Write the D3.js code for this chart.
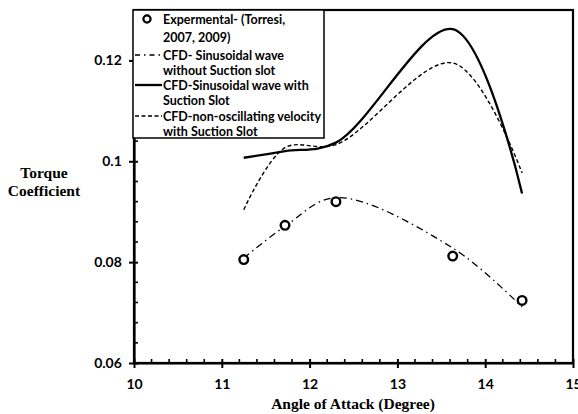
<!DOCTYPE html>
<html><head><meta charset="utf-8">
<script src="https://cdn.jsdelivr.net/npm/d3@7"></script>
<style>html,body{margin:0;padding:0;background:#fff;}svg{display:block;}</style>
</head><body>
<svg id="chart" width="578" height="414"></svg>
<script>
const angles = [11.25, 11.72, 12.3, 13.63, 14.42];
const experimental = [0.0805, 0.0873, 0.0920, 0.0812, 0.0724];
const cfdSinNoSlot = [0.0808, 0.0871, 0.0928, 0.0828, 0.0711];
const cfdSinSlot = [0.1007, 0.1020, 0.1037, 0.1262, 0.0936];
const cfdNonOsc = [0.0904, 0.1027, 0.1033, 0.1195, 0.0977];
const xTicks = [10, 11, 12, 13, 14, 15];
const yTicks = [0.06, 0.08, 0.1, 0.12];
const legendLabels = [
  ["Expermental- (Torresi,", "2007, 2009)"],
  ["CFD- Sinusoidal wave", "without Suction slot"],
  ["CFD-Sinusoidal wave with", "Suction Slot"],
  ["CFD-non-oscillating velocity", "with Suction Slot"]
];

const svg = d3.select("#chart");
const L = 134, R = 573, T = 10, B = 363;
const x = d3.scaleLinear().domain([10, 15]).range([L, R]);
const y = d3.scaleLinear().domain([0.06, 0.13]).range([B, T]);
const sansFont = "Lato, 'Open Sans', sans-serif";
const serifFont = "'Liberation Serif', 'DejaVu Serif', serif";

// frame
svg.append("rect").attr("x", L).attr("y", T).attr("width", R - L).attr("height", B - T)
  .attr("fill", "none").attr("stroke", "#000").attr("stroke-width", 2.2);

// minor ticks (inside)
const xMinor = d3.range(10, 15.001, 0.2).filter(v => Math.abs(v - Math.round(v)) > 1e-6);
const yMinor = d3.range(0.06, 0.1301, 0.004).filter(v => yTicks.every(t => Math.abs(t - v) > 1e-6));
svg.append("g").selectAll("line").data(xMinor).join("line")
  .attr("x1", d => x(d)).attr("x2", d => x(d)).attr("y1", B).attr("y2", B - 4)
  .attr("stroke", "#000").attr("stroke-width", 1.6);
svg.append("g").selectAll("line").data(yMinor).join("line")
  .attr("x1", L).attr("x2", L + 4).attr("y1", d => y(d)).attr("y2", d => y(d))
  .attr("stroke", "#000").attr("stroke-width", 1.6);

// axes
const xAxis = svg.append("g").attr("transform", `translate(0,${B})`)
  .call(d3.axisBottom(x).tickValues(xTicks).tickFormat(d3.format("d")).tickSizeInner(5).tickSizeOuter(0));
xAxis.selectAll(".tick line").attr("y1", -4).attr("y2", 5);
const yAxis = svg.append("g").attr("transform", `translate(${L},0)`)
  .call(d3.axisLeft(y).tickValues(yTicks).tickFormat(d => d === 0.1 ? "0.1" : d3.format(".2f")(d)).tickSizeInner(5).tickSizeOuter(0));
yAxis.selectAll(".tick line").attr("x1", 4).attr("x2", -5);
[xAxis, yAxis].forEach(g => {
  g.select(".domain").attr("stroke-width", 2.2);
  g.selectAll(".tick line").attr("stroke-width", 2);
  g.selectAll("text").attr("font-family", sansFont).attr("font-weight", "bold").attr("font-size", 14).attr("fill", "#000");
});
xAxis.selectAll("text").attr("dy", "1.3em");
yAxis.selectAll("text").attr("dx", "-0.3em");

// axis titles
svg.append("text").attr("x", 353).attr("y", 409).attr("text-anchor", "middle")
  .attr("font-family", serifFont).attr("font-weight", "bold").attr("font-size", 15.5).text("Angle of Attack (Degree)");
const yt = svg.append("text").attr("text-anchor", "middle")
  .attr("font-family", serifFont).attr("font-weight", "bold").attr("font-size", 15.5);
yt.append("tspan").attr("x", 44).attr("y", 178).text("Torque");
yt.append("tspan").attr("x", 44).attr("y", 196).text("Coefficient");

// curves
const line = d3.line().x((d, i) => x(angles[i])).y(d => y(d)).curve(d3.curveCatmullRom.alpha(0.5));
svg.append("path").attr("d", line(cfdSinNoSlot)).attr("fill", "none").attr("stroke", "#000")
  .attr("stroke-width", 1.3).attr("stroke-dasharray", "7,4,1.5,4");
svg.append("path").attr("d", line(cfdNonOsc)).attr("fill", "none").attr("stroke", "#000")
  .attr("stroke-width", 1.4).attr("stroke-dasharray", "4,2.5");
svg.append("path").attr("d", line(cfdSinSlot)).attr("fill", "none").attr("stroke", "#000")
  .attr("stroke-width", 2.3);
svg.append("g").selectAll("circle").data(experimental).join("circle")
  .attr("cx", (d, i) => x(angles[i])).attr("cy", d => y(d)).attr("r", 4.3)
  .attr("fill", "#fff").attr("stroke", "#000").attr("stroke-width", 2.4);

// legend
const lg = svg.append("g");
lg.append("rect").attr("x", 133).attr("y", 10).attr("width", 191).attr("height", 128)
  .attr("fill", "#fff").attr("stroke", "#000").attr("stroke-width", 1.5);
const rowY = [19, 55, 85, 116];
const lineY = [[19, 37], [55, 70], [85, 100], [116, 131]];
lg.append("circle").attr("cx", 147).attr("cy", rowY[0]).attr("r", 3.6)
  .attr("fill", "#fff").attr("stroke", "#000").attr("stroke-width", 2.2);
lg.append("line").attr("x1", 135).attr("x2", 162).attr("y1", rowY[1]).attr("y2", rowY[1])
  .attr("stroke", "#000").attr("stroke-width", 1.3).attr("stroke-dasharray", "5,4,1.5,4");
lg.append("line").attr("x1", 135).attr("x2", 162).attr("y1", rowY[2]).attr("y2", rowY[2])
  .attr("stroke", "#000").attr("stroke-width", 2.3);
lg.append("line").attr("x1", 135).attr("x2", 162).attr("y1", rowY[3]).attr("y2", rowY[3])
  .attr("stroke", "#000").attr("stroke-width", 1.4).attr("stroke-dasharray", "4,2.5");
legendLabels.forEach((lines, i) => {
  const t = lg.append("text").attr("font-family", sansFont).attr("font-weight", "bold").attr("font-size", 12.5);
  lines.forEach((s, j) => t.append("tspan").attr("x", 163).attr("y", lineY[i][j] + 4.5).text(s));
});
</script>
</body></html>
